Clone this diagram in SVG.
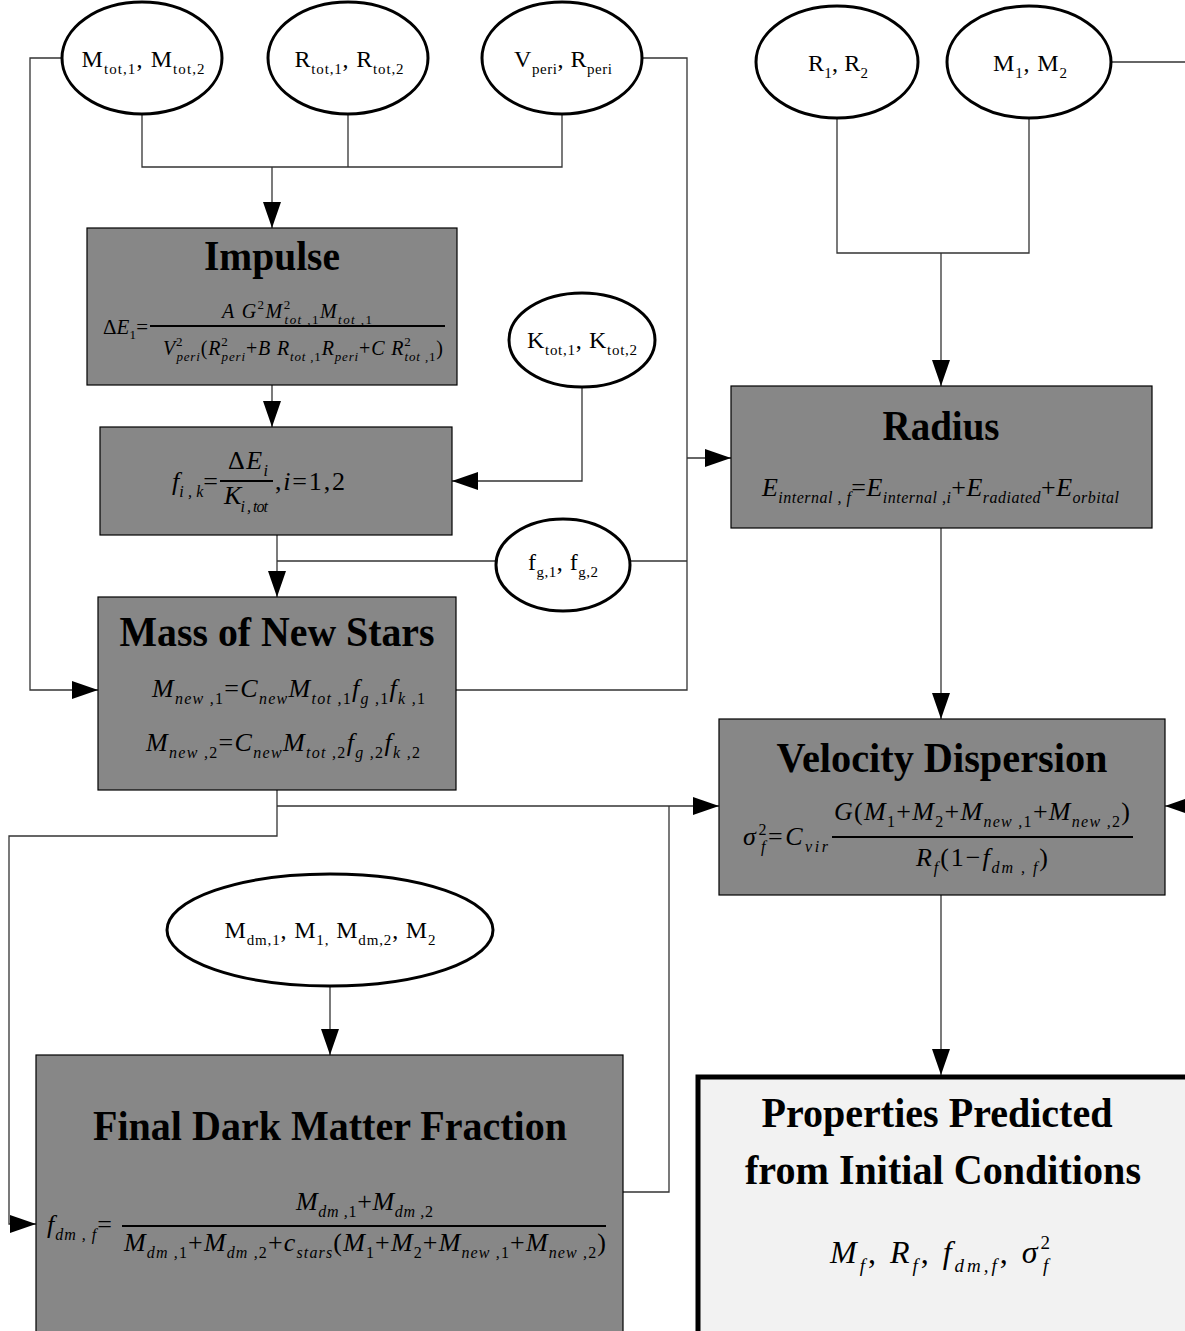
<svg xmlns="http://www.w3.org/2000/svg" width="1185" height="1331" viewBox="0 0 1185 1331">
<defs>
<marker id="arr" markerUnits="userSpaceOnUse" markerWidth="26" markerHeight="18" refX="26" refY="9" orient="auto">
<path d="M0,0 L26,9 L0,18 z" fill="#000"/>
</marker>
<style>
.box{fill:#878787;stroke:#000;stroke-width:1.2}
.ell{fill:#fff;stroke:#000;stroke-width:3}
.con{fill:none;stroke:#333;stroke-width:1.3}
.lbl{font-family:"Liberation Serif",serif;font-size:24px;fill:#000;text-anchor:middle}
.ls{font-size:15px}
.ttl{font-family:"Liberation Serif",serif;font-weight:bold;font-size:42px;fill:#000;text-anchor:middle}
.fm{font-family:"Liberation Serif",serif;font-style:italic;font-size:26px;fill:#000}
.sb{font-size:16px}
.up{font-style:normal}
.bar{stroke:#000;stroke-width:2}
</style>
</defs>
<rect width="1185" height="1331" fill="#fff"/>

<g id="connectors">
<path class="con" d="M142,115 V167 H562 V115 M348,115 V167"/>
<path class="con" d="M272,167 V228" marker-end="url(#arr)"/>
<path class="con" d="M272,385 V427" marker-end="url(#arr)"/>
<path class="con" d="M582,386 V481 H452" marker-end="url(#arr)"/>
<path class="con" d="M277,535 V597" marker-end="url(#arr)"/>
<path class="con" d="M496,561 H277"/>
<path class="con" d="M630,561 H687"/>
<path class="con" d="M642,58 H687 V690 H456"/>
<path class="con" d="M687,458 H731" marker-end="url(#arr)"/>
<path class="con" d="M62,58 H30 V690 H98" marker-end="url(#arr)"/>
<path class="con" d="M837,118 V253 H1029 V118"/>
<path class="con" d="M941,253 V386" marker-end="url(#arr)"/>
<path class="con" d="M941,528 V719" marker-end="url(#arr)"/>
<path class="con" d="M941,895 V1075" marker-end="url(#arr)"/>
<path class="con" d="M1110,62 H1185"/>
<path class="con" d="M1190,806 H1165" marker-end="url(#arr)"/>
<path class="con" d="M277,790 V836 H9 V1224 H36" marker-end="url(#arr)"/>
<path class="con" d="M277,806 H719" marker-end="url(#arr)"/>
<path class="con" d="M623,1192 H669 V806"/>
<path class="con" d="M330,987 V1055" marker-end="url(#arr)"/>
</g>

<g id="n-mtot">
<ellipse class="ell" cx="142" cy="58" rx="80" ry="56"/>
<text class="lbl" x="143" y="67" textLength="123" lengthAdjust="spacing">M<tspan class="ls" dy="7">tot,1</tspan><tspan dy="-7">, M</tspan><tspan class="ls" dy="7">tot,2</tspan></text>
</g>
<g id="n-rtot">
<ellipse class="ell" cx="348" cy="58" rx="80" ry="56"/>
<text class="lbl" x="349" y="67" textLength="109" lengthAdjust="spacing">R<tspan class="ls" dy="7">tot,1</tspan><tspan dy="-7">, R</tspan><tspan class="ls" dy="7">tot,2</tspan></text>
</g>
<g id="n-vperi">
<ellipse class="ell" cx="562" cy="58" rx="80" ry="56"/>
<text class="lbl" x="563" y="67" textLength="98" lengthAdjust="spacing">V<tspan class="ls" dy="7">peri</tspan><tspan dy="-7">, R</tspan><tspan class="ls" dy="7">peri</tspan></text>
</g>
<g id="n-r12">
<ellipse class="ell" cx="837" cy="62" rx="81" ry="56"/>
<text class="lbl" x="838" y="71" textLength="60" lengthAdjust="spacing">R<tspan class="ls" dy="7">1</tspan><tspan dy="-7">, R</tspan><tspan class="ls" dy="7">2</tspan></text>
</g>
<g id="n-m12">
<ellipse class="ell" cx="1029" cy="62" rx="82" ry="56"/>
<text class="lbl" x="1030" y="71" textLength="74" lengthAdjust="spacing">M<tspan class="ls" dy="7">1</tspan><tspan dy="-7">, M</tspan><tspan class="ls" dy="7">2</tspan></text>
</g>
<g id="n-ktot">
<ellipse class="ell" cx="582" cy="340" rx="73" ry="47"/>
<text class="lbl" x="582" y="348" textLength="110" lengthAdjust="spacing">K<tspan class="ls" dy="7">tot,1</tspan><tspan dy="-7">, K</tspan><tspan class="ls" dy="7">tot,2</tspan></text>
</g>
<g id="n-fg">
<ellipse class="ell" cx="563" cy="565" rx="67" ry="46"/>
<text class="lbl" x="563" y="570" textLength="70" lengthAdjust="spacing">f<tspan class="ls" dy="7">g,1</tspan><tspan dy="-7">, f</tspan><tspan class="ls" dy="7">g,2</tspan></text>
</g>
<g id="n-mdm">
<ellipse class="ell" cx="330" cy="930" rx="163" ry="56"/>
<text class="lbl" x="330" y="938" textLength="211" lengthAdjust="spacing">M<tspan class="ls" dy="7">dm,1</tspan><tspan dy="-7">, M</tspan><tspan class="ls" dy="7">1,</tspan><tspan dy="-7"> M</tspan><tspan class="ls" dy="7">dm,2</tspan><tspan dy="-7">, M</tspan><tspan class="ls" dy="7">2</tspan></text>
</g>

<g id="n-impulse">
<rect class="box" x="87" y="228" width="370" height="157"/>
<text class="ttl" x="272" y="270" textLength="136" lengthAdjust="spacingAndGlyphs">Impulse</text>
<text class="fm" style="font-size:21px" x="103" y="334" textLength="45" lengthAdjust="spacing"><tspan class="up">Δ</tspan>E<tspan class="up" style="font-size:13px" dy="5">1</tspan><tspan class="up" dy="-5">=</tspan></text>
<line class="bar" x1="150" y1="326" x2="445" y2="326"/>
<text class="fm" style="font-size:20px" x="222" y="318" textLength="150" lengthAdjust="spacing">A G<tspan class="up" style="font-size:13px" dy="-9">2</tspan><tspan dy="9">M</tspan><tspan class="up" style="font-size:13px" dy="-9">2</tspan><tspan style="font-size:13px" dx="-7" dy="15">tot ,<tspan class="up">1</tspan></tspan><tspan dy="-6">M</tspan><tspan style="font-size:13px" dy="6">tot ,<tspan class="up">1</tspan></tspan></text>
<text class="fm" style="font-size:20px" x="163" y="355" textLength="280" lengthAdjust="spacing">V<tspan class="up" style="font-size:13px" dy="-9">2</tspan><tspan style="font-size:13px" dx="-7" dy="15">peri</tspan><tspan class="up" dy="-6">(</tspan>R<tspan class="up" style="font-size:13px" dy="-9">2</tspan><tspan style="font-size:13px" dx="-7" dy="15">peri</tspan><tspan class="up" dy="-6">+</tspan>B R<tspan style="font-size:13px" dy="6">tot ,<tspan class="up">1</tspan></tspan><tspan dy="-6">R</tspan><tspan style="font-size:13px" dy="6">peri</tspan><tspan class="up" dy="-6">+</tspan>C R<tspan class="up" style="font-size:13px" dy="-9">2</tspan><tspan style="font-size:13px" dx="-7" dy="15">tot ,<tspan class="up">1</tspan></tspan><tspan class="up" dy="-6">)</tspan></text>
</g>

<g id="n-fik">
<rect class="box" x="100" y="427" width="352" height="108"/>
<text class="fm" x="172" y="490" textLength="46" lengthAdjust="spacing">f<tspan class="sb" dy="7">i , k</tspan><tspan class="up" dy="-7">=</tspan></text>
<line class="bar" x1="220" y1="481" x2="273" y2="481"/>
<text class="fm" x="228" y="469" textLength="40" lengthAdjust="spacing"><tspan class="up">Δ</tspan>E<tspan class="sb" dy="7">i</tspan></text>
<text class="fm" x="224" y="504" textLength="44" lengthAdjust="spacing">K<tspan class="sb" dy="8">i , tot</tspan></text>
<text class="fm" x="275" y="490" textLength="70" lengthAdjust="spacing"><tspan class="up">,</tspan>i<tspan class="up">=1,2</tspan></text>
</g>

<g id="n-mass">
<rect class="box" x="98" y="597" width="358" height="193"/>
<text class="ttl" x="277" y="646" textLength="315" lengthAdjust="spacingAndGlyphs">Mass of New Stars</text>
<text class="fm" x="152" y="697" textLength="273" lengthAdjust="spacing">M<tspan class="sb" dy="7">new ,<tspan class="up">1</tspan></tspan><tspan class="up" dy="-7">=</tspan>C<tspan class="sb" dy="7">new</tspan><tspan dy="-7">M</tspan><tspan class="sb" dy="7">tot ,<tspan class="up">1</tspan></tspan><tspan dy="-7">f</tspan><tspan class="sb" dy="7">g ,<tspan class="up">1</tspan></tspan><tspan dy="-7">f</tspan><tspan class="sb" dy="7">k ,<tspan class="up">1</tspan></tspan></text>
<text class="fm" x="146" y="751" textLength="274" lengthAdjust="spacing">M<tspan class="sb" dy="7">new ,<tspan class="up">2</tspan></tspan><tspan class="up" dy="-7">=</tspan>C<tspan class="sb" dy="7">new</tspan><tspan dy="-7">M</tspan><tspan class="sb" dy="7">tot ,<tspan class="up">2</tspan></tspan><tspan dy="-7">f</tspan><tspan class="sb" dy="7">g ,<tspan class="up">2</tspan></tspan><tspan dy="-7">f</tspan><tspan class="sb" dy="7">k ,<tspan class="up">2</tspan></tspan></text>
</g>

<g id="n-radius">
<rect class="box" x="731" y="386" width="421" height="142"/>
<text class="ttl" x="941" y="440" textLength="117" lengthAdjust="spacingAndGlyphs">Radius</text>
<text class="fm" x="762" y="496" textLength="357" lengthAdjust="spacing">E<tspan class="sb" dy="7">internal , f</tspan><tspan class="up" dy="-7">=</tspan>E<tspan class="sb" dy="7">internal ,i</tspan><tspan class="up" dy="-7">+</tspan>E<tspan class="sb" dy="7">radiated</tspan><tspan class="up" dy="-7">+</tspan>E<tspan class="sb" dy="7">orbital</tspan></text>
</g>

<g id="n-veldisp">
<rect class="box" x="719" y="719" width="446" height="176"/>
<text class="ttl" x="942" y="772" textLength="331" lengthAdjust="spacingAndGlyphs">Velocity Dispersion</text>
<text class="fm" x="743" y="845" textLength="85" lengthAdjust="spacing">σ<tspan class="up sb" dy="-10">2</tspan><tspan class="sb" dx="-8" dy="17">f</tspan><tspan class="up" dy="-7">=</tspan>C<tspan class="sb" dy="7">vir</tspan></text>
<line class="bar" x1="832" y1="837" x2="1133" y2="837"/>
<text class="fm" x="834" y="820" textLength="296" lengthAdjust="spacing">G<tspan class="up">(</tspan>M<tspan class="sb up" dy="7">1</tspan><tspan class="up" dy="-7">+</tspan>M<tspan class="sb up" dy="7">2</tspan><tspan class="up" dy="-7">+</tspan>M<tspan class="sb" dy="7">new ,<tspan class="up">1</tspan></tspan><tspan class="up" dy="-7">+</tspan>M<tspan class="sb" dy="7">new ,<tspan class="up">2</tspan></tspan><tspan class="up" dy="-7">)</tspan></text>
<text class="fm" x="916" y="866" textLength="132" lengthAdjust="spacing">R<tspan class="sb" dy="7">f</tspan><tspan class="up" dy="-7">(1−</tspan>f<tspan class="sb" dy="7">dm , f</tspan><tspan class="up" dy="-7">)</tspan></text>
</g>

<g id="n-finaldm">
<rect class="box" x="36" y="1055" width="587" height="290"/>
<text class="ttl" x="330" y="1140" textLength="474" lengthAdjust="spacingAndGlyphs">Final Dark Matter Fraction</text>
<text class="fm" x="47" y="1233" textLength="65" lengthAdjust="spacing">f<tspan class="sb" dy="7">dm , f</tspan><tspan class="up" dy="-7">=</tspan></text>
<line class="bar" x1="122" y1="1226" x2="606" y2="1226"/>
<text class="fm" x="296" y="1210" textLength="137" lengthAdjust="spacing">M<tspan class="sb" dy="7">dm ,<tspan class="up">1</tspan></tspan><tspan class="up" dy="-7">+</tspan>M<tspan class="sb" dy="7">dm ,<tspan class="up">2</tspan></tspan></text>
<text class="fm" x="124" y="1251" textLength="482" lengthAdjust="spacing">M<tspan class="sb" dy="7">dm ,<tspan class="up">1</tspan></tspan><tspan class="up" dy="-7">+</tspan>M<tspan class="sb" dy="7">dm ,<tspan class="up">2</tspan></tspan><tspan class="up" dy="-7">+</tspan>c<tspan class="sb" dy="7">stars</tspan><tspan class="up" dy="-7">(</tspan>M<tspan class="sb up" dy="7">1</tspan><tspan class="up" dy="-7">+</tspan>M<tspan class="sb up" dy="7">2</tspan><tspan class="up" dy="-7">+</tspan>M<tspan class="sb" dy="7">new ,<tspan class="up">1</tspan></tspan><tspan class="up" dy="-7">+</tspan>M<tspan class="sb" dy="7">new ,<tspan class="up">2</tspan></tspan><tspan class="up" dy="-7">)</tspan></text>
</g>

<g id="n-props">
<rect x="698" y="1077" width="495" height="260" fill="#f2f2f2" stroke="#000" stroke-width="5"/>
<text class="ttl" x="937" y="1127" textLength="351" lengthAdjust="spacingAndGlyphs">Properties Predicted</text>
<text class="ttl" x="943" y="1184" textLength="396" lengthAdjust="spacingAndGlyphs">from Initial Conditions</text>
<text class="fm" style="font-size:32px" x="830" y="1263" textLength="223" lengthAdjust="spacing">M<tspan style="font-size:19px" dy="9">f</tspan><tspan class="up" dy="-9">, </tspan>R<tspan style="font-size:19px" dy="9">f</tspan><tspan class="up" dy="-9">, </tspan>f<tspan style="font-size:19px" dy="9">dm,f</tspan><tspan class="up" dy="-9">, </tspan>σ<tspan class="up" style="font-size:19px" dy="-14">2</tspan><tspan style="font-size:19px" dx="-10" dy="23">f</tspan></text>
</g>
</svg>
